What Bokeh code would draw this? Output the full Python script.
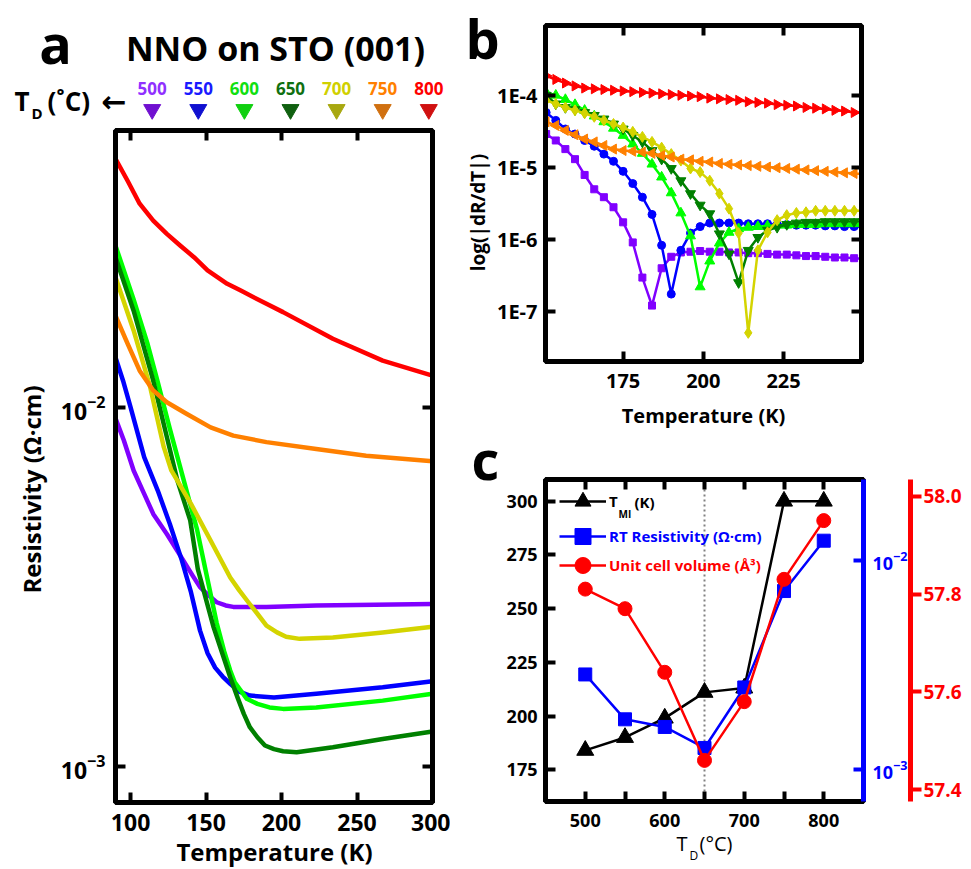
import math
from bokeh.plotting import figure
from bokeh.layouts import row, column
from bokeh.models import (Range1d, FixedTicker, LinearAxis, LogAxis, LogScale, Label, Span, GridBox,
                          Legend, LegendItem, CustomJSTickFormatter, NumeralTickFormatter)
from bokeh.core.properties import value
from bokeh.embed import file_html
from bokeh.resources import INLINE

FONT = "Open Sans"

# ---------------- data ----------------
deposition_temps = ["500", "550", "600", "650", "700", "750", "800"]
line_colors = ["#8000ff", "#0000ff", "#00ff00", "#008000", "#d4d400", "#ff8000", "#ff0000"]
label_colors = ["#9030ff", "#1a1aff", "#10e010", "#107010", "#d0d000", "#ff8000", "#ff0000"]
marker_colors = ["#7010d0", "#1010d0", "#10d010", "#106010", "#a8a810", "#d07010", "#d01010"]

# panel a: resistivity (log10 of Ohm*cm) vs temperature (K)
T_500 = [90, 95.5, 102, 109, 115, 124, 135, 141, 146, 152, 157, 163, 168, 190, 223, 262, 300]
logrho_500 = [-2.031, -2.092, -2.176, -2.241, -2.297, -2.353, -2.427, -2.468, -2.501, -2.525, -2.543, -2.552, -2.556,
              -2.556, -2.552, -2.550, -2.548]
T_550 = [90, 95, 100, 109, 118, 126, 134, 140, 146, 151, 156, 161, 166, 172, 179, 195, 223, 267, 300]
logrho_550 = [-1.861, -1.926, -2.00, -2.139, -2.232, -2.325, -2.427, -2.515, -2.622, -2.685, -2.725, -2.750, -2.770,
              -2.792, -2.803, -2.808, -2.798, -2.780, -2.763]
T_600 = [90, 102, 111, 118, 126, 135, 144, 150, 157, 162, 166, 169, 173, 177, 184, 192, 201, 223, 267, 300]
logrho_600 = [-1.550, -1.70, -1.82, -1.93, -2.06, -2.20, -2.34, -2.46, -2.60, -2.68, -2.733, -2.766, -2.789, -2.812,
              -2.826, -2.836, -2.840, -2.836, -2.817, -2.798]
T_650 = [90, 102, 115, 131, 139.5, 144.5, 155, 166, 171, 175, 179, 184, 189, 195, 201, 210, 234, 267, 300]
logrho_650 = [-1.582, -1.731, -1.926, -2.204, -2.315, -2.45, -2.613, -2.752, -2.81, -2.854, -2.891, -2.919, -2.942,
              -2.952, -2.958, -2.961, -2.947, -2.924, -2.903]
T_700 = [90, 102, 113, 122, 127, 140, 153, 166, 172, 178, 184, 190, 197, 203, 212, 234, 267, 300]
logrho_700 = [-1.638, -1.786, -1.944, -2.111, -2.176, -2.269, -2.371, -2.474, -2.510, -2.543, -2.575, -2.608, -2.627,
              -2.639, -2.645, -2.641, -2.627, -2.611]
T_750 = [90, 98, 106, 115, 124, 137, 153, 168, 190, 223, 256, 300]
logrho_750 = [-1.745, -1.823, -1.898, -1.953, -1.986, -2.018, -2.056, -2.079, -2.097, -2.116, -2.135, -2.150]
T_800 = [90, 98, 106, 115, 124, 133, 142, 151, 164, 173, 190, 201, 234, 267, 300]
logrho_800 = [-1.308, -1.369, -1.433, -1.480, -1.517, -1.550, -1.582, -1.619, -1.656, -1.675, -1.712, -1.735, -1.809,
              -1.870, -1.912]

# panel b: log10 |dR/dT| vs temperature (K)
T_b = [151, 154, 157, 160, 163, 166, 169, 172, 175, 178, 181, 184, 187, 190, 193, 196, 199,
       202, 205, 208, 211, 214, 217, 220, 223, 226, 229, 232, 235, 238, 241, 244, 247, 250]
logd_500 = [-4.53, -4.62, -4.74, -4.88, -5.10, -5.30, -5.41, -5.55, -5.76, -6.04, -6.53, -6.92, -6.40, -6.24, -6.18, -6.17, -6.16,
            -6.17, -6.17, -6.18, -6.18, -6.19, -6.19, -6.20, -6.21, -6.21, -6.22, -6.23, -6.23, -6.24, -6.25, -6.25, -6.26, -6.27]
logd_550 = [-4.23, -4.34, -4.46, -4.53, -4.62, -4.70, -4.81, -4.91, -5.05, -5.22, -5.41, -5.65, -6.08, -6.76, -6.15, -5.91, -5.82,
            -5.77, -5.77, -5.77, -5.77, -5.78, -5.78, -5.78, -5.79, -5.79, -5.80, -5.80, -5.80, -5.81, -5.81, -5.82, -5.82, -5.83]
logd_600 = [-3.95, -3.99, -4.05, -4.12, -4.20, -4.28, -4.36, -4.45, -4.55, -4.67, -4.80, -4.95, -5.13, -5.35, -5.63, -5.95, -6.66,
            -6.30, -6.05, -5.90, -5.85, -5.83, -5.82, -5.81, -5.80, -5.80, -5.79, -5.79, -5.79, -5.78, -5.78, -5.78, -5.78, -5.78]
logd_650 = [-3.99, -4.11, -4.16, -4.19, -4.23, -4.27, -4.32, -4.39, -4.46, -4.55, -4.64, -4.76, -4.88, -5.01, -5.18, -5.36, -5.52,
            -5.64, -5.92, -6.20, -6.60, -6.15, -5.97, -5.87, -5.83, -5.79, -5.77, -5.76, -5.76, -5.75, -5.75, -5.75, -5.75, -5.75]
logd_700 = [-4.06, -4.11, -4.16, -4.20, -4.24, -4.29, -4.34, -4.39, -4.44, -4.50, -4.57, -4.64, -4.72, -4.81, -4.90, -5.01, -5.06,
            -5.18, -5.36, -5.57, -5.91, -7.30, -6.15, -5.90, -5.73, -5.66, -5.63, -5.62, -5.60, -5.60, -5.60, -5.60, -5.60, -5.60]
logd_750 = [-4.36, -4.41, -4.48, -4.54, -4.60, -4.64, -4.69, -4.74, -4.76, -4.77, -4.78, -4.80, -4.83, -4.85, -4.88, -4.89, -4.91,
            -4.92, -4.94, -4.95, -4.96, -4.97, -4.98, -4.99, -5.00, -5.01, -5.02, -5.03, -5.04, -5.05, -5.06, -5.07, -5.08, -5.09]
logd_800 = [-3.72, -3.77, -3.82, -3.86, -3.89, -3.90, -3.91, -3.92, -3.93, -3.94, -3.95, -3.96, -3.97, -3.98, -3.99, -4.00, -4.01,
            -4.03, -4.04, -4.05, -4.06, -4.08, -4.09, -4.10, -4.12, -4.13, -4.14, -4.16, -4.17, -4.18, -4.20, -4.21, -4.23, -4.24]

# panel c
TD = [500, 550, 600, 650, 700, 750, 800]
T_MI = [184, 190, 199, 211, 213, 300, 300]
RT_resistivity = [2.85e-3, 1.74e-3, 1.60e-3, 1.27e-3, 2.47e-3, 7.13e-3, 1.24e-2]
cell_volume = [57.81, 57.77, 57.64, 57.46, 57.58, 57.83, 57.95]
TD_optimal = 650

rho_T = [T_500, T_550, T_600, T_650, T_700, T_750, T_800]
rho_log = [logrho_500, logrho_550, logrho_600, logrho_650, logrho_700, logrho_750, logrho_800]
deriv_log = [logd_500, logd_550, logd_600, logd_650, logd_700, logd_750, logd_800]

PAGE_W, PAGE_H = 969, 869


# ---------------- helpers ----------------
def style_axis(ax, size, color="black", tick_in=10, tick_out=0, standoff=8, line_color=None):
    lc = line_color or color
    ax.axis_line_width = 5
    ax.axis_line_color = lc
    ax.major_tick_line_width = 4
    ax.major_tick_line_color = lc
    ax.major_tick_in = tick_in
    ax.major_tick_out = tick_out
    ax.minor_tick_line_color = None
    ax.major_label_text_font = FONT
    ax.major_label_text_font_style = "bold"
    ax.major_label_text_font_size = size
    ax.major_label_text_color = color
    ax.major_label_standoff = standoff


def mirror_axis(ax):
    style_axis(ax, "10px", standoff=0)
    ax.formatter = CustomJSTickFormatter(code="return '';")
    ax.major_label_text_color = None


def add_label(p, x, y, text, size, color="black", align="left"):
    p.add_layout(Label(x=x, y=y, x_units="screen", y_units="screen", text=text, text_font=FONT,
                       text_font_style="bold", text_font_size=size, text_color=color,
                       text_align=align, text_baseline="middle"))


def base_fig(**kw):
    p = figure(output_backend="svg", toolbar_location=None, **kw)
    p.xgrid.visible = False
    p.ygrid.visible = False
    p.outline_line_color = "black"
    p.outline_line_width = 5
    p.background_fill_color = "white"
    p.border_fill_color = "white"
    return p


# ---------------- panel a ----------------
pa = base_fig(x_range=Range1d(90, 300), y_range=Range1d(7.93e-4, 0.0590), y_axis_type="log",
              frame_width=317, frame_height=672, min_border_left=115, min_border_top=130,
              min_border_right=18, min_border_bottom=66)
xt_a = [100, 150, 200, 250, 300]
yt_a = [1e-3, 1e-2]
pa.xaxis.ticker = FixedTicker(ticks=xt_a)
pa.yaxis.ticker = FixedTicker(ticks=yt_a)
style_axis(pa.xaxis[0], "23px", standoff=11)
style_axis(pa.yaxis[0], "23px", standoff=10)
top_a = LinearAxis(ticker=FixedTicker(ticks=xt_a))
mirror_axis(top_a)
pa.add_layout(top_a, "above")
right_a = LogAxis(ticker=FixedTicker(ticks=yt_a))
mirror_axis(right_a)
pa.add_layout(right_a, "right")

for i in range(7):
    pa.line(rho_T[i], [10 ** v for v in rho_log[i]], line_color=line_colors[i], line_width=4.5,
            line_join="round", line_cap="round")

# ---------------- panel b ----------------
pb = base_fig(x_range=Range1d(150.8, 249.3), y_range=Range1d(2.0e-8, 9.59e-4), y_axis_type="log",
              frame_width=316, frame_height=336, min_border_left=95, min_border_top=25,
              min_border_right=108, min_border_bottom=69)
xt_b = [175, 200, 225]
yt_b = [1e-7, 1e-6, 1e-5, 1e-4]
pb.xaxis.ticker = FixedTicker(ticks=xt_b)
pb.yaxis.ticker = FixedTicker(ticks=yt_b)
pb.yaxis.formatter = CustomJSTickFormatter(code="return tick.toExponential(0).toUpperCase();")
style_axis(pb.xaxis[0], "20px", standoff=12)
style_axis(pb.yaxis[0], "20px", standoff=8)
top_b = LinearAxis(ticker=FixedTicker(ticks=xt_b))
mirror_axis(top_b)
pb.add_layout(top_b, "above")
right_b = LogAxis(ticker=FixedTicker(ticks=yt_b))
mirror_axis(right_b)
pb.add_layout(right_b, "right")

markers_b = ["square", "circle", "triangle", "inverted_triangle", "diamond", "triangle", "triangle"]
angles_b = [0, 0, 0, 0, 0, math.pi / 2, -math.pi / 2]
sizes_b = [7, 8, 10, 10, 11, 10, 10]
for i in range(7):
    yv = [10 ** v for v in deriv_log[i]]
    pb.line(T_b, yv, line_color=line_colors[i], line_width=2.5)
    pb.scatter(T_b, yv, marker=markers_b[i], size=sizes_b[i], angle=angles_b[i],
               fill_color=line_colors[i], line_color=line_colors[i])

# ---------------- panel c ----------------
pc = base_fig(x_range=Range1d(450, 850), y_range=Range1d(160.2, 310.1),
              frame_width=318, frame_height=322, min_border_left=93, min_border_top=49,
              min_border_right=108, min_border_bottom=67)
pc.extra_y_ranges = {"rho": Range1d(7.05e-4, 0.0243), "vol": Range1d(57.376, 58.034)}
pc.extra_y_scales = {"rho": LogScale()}
xt_c = [500, 550, 600, 650, 700, 750, 800]
pc.xaxis.ticker = FixedTicker(ticks=xt_c)
pc.xaxis.formatter = CustomJSTickFormatter(code="return (tick % 100 == 0) ? tick.toString() : '';")
pc.yaxis.ticker = FixedTicker(ticks=[175, 200, 225, 250, 275, 300])
style_axis(pc.xaxis[0], "18px", standoff=12)
style_axis(pc.yaxis[0], "18px", standoff=8)
top_c = LinearAxis(ticker=FixedTicker(ticks=xt_c))
mirror_axis(top_c)
pc.add_layout(top_c, "above")
ax_rho = LogAxis(y_range_name="rho", ticker=FixedTicker(ticks=[1e-3, 1e-2]))
style_axis(ax_rho, "18px", color="#0000ff", standoff=9)
pc.add_layout(ax_rho, "right")
ax_vol = LinearAxis(y_range_name="vol", ticker=FixedTicker(ticks=[57.4, 57.6, 57.8, 58.0]),
                    formatter=NumeralTickFormatter(format="0.0"))
style_axis(ax_vol, "19px", color="#ff0000", tick_in=0, tick_out=11, standoff=2)
pc.add_layout(ax_vol, "right")

pc.add_layout(Span(location=TD_optimal, dimension="height", line_color="#808080",
                   line_dash="2 3", line_width=2, level="underlay"))

r1l = pc.line(TD, T_MI, line_color="black", line_width=2.5)
r1s = pc.scatter(TD, T_MI, marker="triangle", size=17, color="black")
r2l = pc.line(TD, RT_resistivity, y_range_name="rho", line_color="#0000ff", line_width=2.5)
r2s = pc.scatter(TD, RT_resistivity, y_range_name="rho", marker="square", size=13, color="#0000ff")
r3l = pc.line(TD, cell_volume, y_range_name="vol", line_color="#ff0000", line_width=2.5)
r3s = pc.scatter(TD, cell_volume, y_range_name="vol", marker="circle", size=14, color="#ff0000")

legend_rows = [("T", [r1l, r1s], "black", 280), ("RT Resistivity (Ω·cm)", [r2l, r2s], "#0000ff", 245),
               ("Unit cell volume (Å³)", [r3l, r3s], "#ff0000", 216)]
for lab, rs, col, vy in legend_rows:
    leg = Legend(items=[LegendItem(label=lab, renderers=rs)], location=(14, vy),
                 glyph_width=47, glyph_height=40, label_standoff=3, padding=0, margin=0,
                 spacing=0, border_line_alpha=0, background_fill_alpha=0,
                 label_text_font=FONT, label_text_font_style="bold", label_text_font_size="15px",
                 label_text_color=col)
    pc.add_layout(leg)
add_label(pc, 73, 288, "MI", "10px")
add_label(pc, 89, 300, "(K)", "15px")

main = row(pa, column(pb, pc))

# ---------------- transparent text overlay (page pixel coordinates) ----------------
ov = figure(width=PAGE_W, height=PAGE_H, x_range=Range1d(0, PAGE_W), y_range=Range1d(PAGE_H, 0),
            min_border=0, x_axis_location=None, y_axis_location=None,
            toolbar_location=None, output_backend="svg")
ov.outline_line_color = None
ov.background_fill_color = None
ov.border_fill_color = None
ov.xgrid.visible = False
ov.ygrid.visible = False


def ov_text(xs, ys, texts, size, colors="black", align="center", angle=0.0, style="bold", font=FONT):
    ov.text(x=xs, y=ys, text=texts, text_font=value(font), text_font_size=value(size),
            text_font_style=value(style), text_color=colors, text_align=value(align),
            text_baseline=value("middle"), angle=angle)


# panel letters and title
ov_text([55, 482, 485], [42, 37, 458], ["a", "b", "c"], "54px")
ov_text([275], [47], ["NNO on STO (001)"], "34px")
# deposition temperature key above panel a
ov_text([14], [100], ["T"], "26px", align="left")
ov_text([31], [112], ["D"], "15px", align="left")
ov_text([47], [100], ["(˚C)"], "26px", align="left")
ov_text([101], [101], ["←"], "30px", align="left", font="DejaVu Sans")
key_x = [151.7 + i * 46.1 for i in range(len(deposition_temps))]
ov_text(key_x, [88] * len(key_x), deposition_temps, "17px", colors=label_colors)
ov.scatter(key_x, [109] * len(key_x), marker="inverted_triangle", size=17,
           fill_color=marker_colors, line_color=marker_colors)
# axis titles
ov_text([274], [851], ["Temperature (K)"], "24px")
ov_text([31], [489], ["Resistivity (Ω·cm)"], "24px", angle=math.pi / 2)
ov_text([703], [415], ["Temperature (K)"], "20px")
ov_text([477], [212], ["log(|dR/dT|)"], "19px", angle=math.pi / 2)
ov_text([676], [843], ["T"], "20px", align="left", style="normal")
ov_text([689], [855], ["D"], "12px", align="left", style="normal")
ov_text([699], [843], ["(°C)"], "20px", align="left", style="normal")

page = GridBox(children=[(main, 0, 0), (ov, 0, 0)])
open("out.html", "w").write(file_html(page, INLINE))
